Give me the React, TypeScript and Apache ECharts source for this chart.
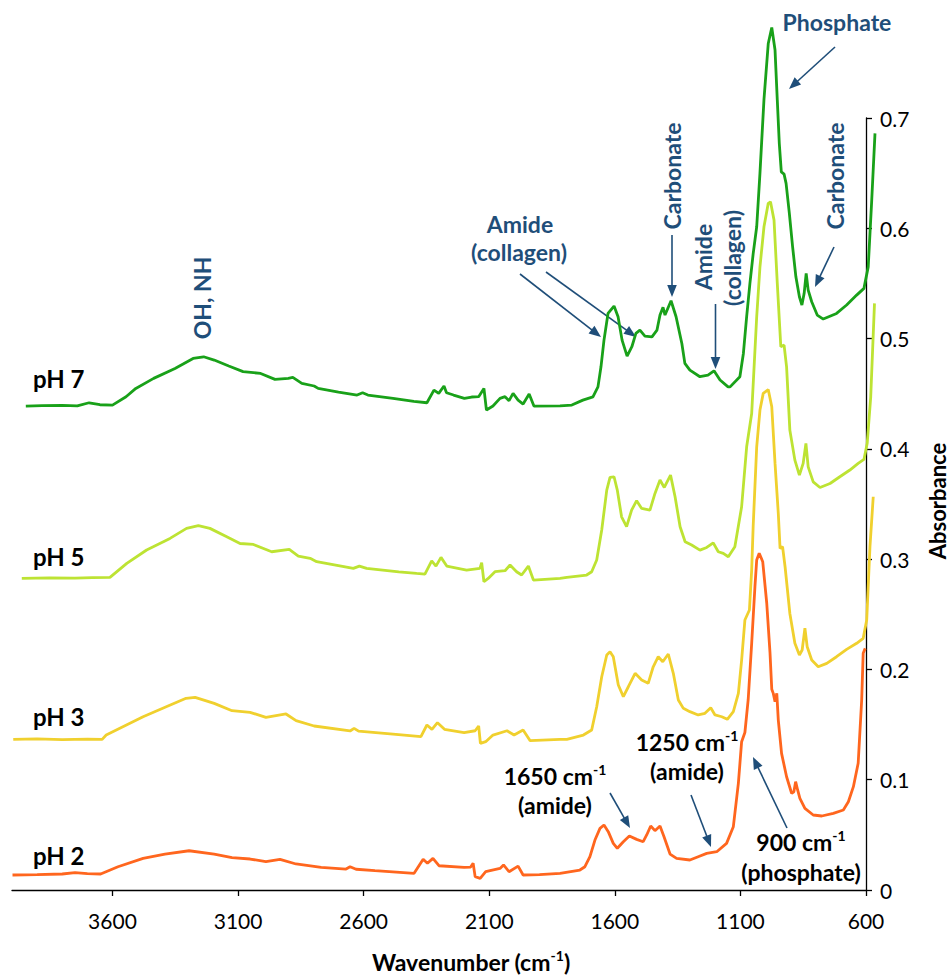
import { useEffect, useRef } from "react";
import * as echarts from "echarts";

// FTIR spectra: [wavenumber (cm-1), absorbance], stacked by pH
const ph7: [number, number][] = [
  [3945, 0.4388], [3880, 0.4392], [3800, 0.4395], [3740, 0.439], [3693, 0.4418], [3650, 0.44],
  [3600, 0.4397], [3546, 0.4472], [3507, 0.4548], [3436, 0.4639], [3351, 0.4729], [3279, 0.482],
  [3237, 0.4835], [3195, 0.4805], [3137, 0.4751], [3080, 0.47], [3010, 0.4684], [2953, 0.463],
  [2900, 0.464], [2882, 0.4648], [2846, 0.4594], [2797, 0.457], [2781, 0.4548], [2700, 0.4515],
  [2626, 0.4488], [2604, 0.4509], [2583, 0.4488], [2483, 0.4458], [2400, 0.443], [2348, 0.4418],
  [2320, 0.4533], [2301, 0.4503], [2280, 0.457], [2270, 0.4509], [2242, 0.4488], [2199, 0.4458],
  [2170, 0.447], [2142, 0.4473], [2121, 0.4548], [2111, 0.4352], [2085, 0.4388], [2057, 0.4458],
  [2037, 0.4473], [2021, 0.4437], [2005, 0.4503], [1985, 0.4442], [1965, 0.4406], [1941, 0.4497],
  [1922, 0.4388], [1818, 0.439], [1771, 0.4397], [1727, 0.4442], [1687, 0.4472], [1667, 0.4562],
  [1655, 0.4744], [1643, 0.4986], [1627, 0.5228], [1603, 0.5295], [1587, 0.5198], [1571, 0.4986],
  [1551, 0.4841], [1532, 0.4926], [1516, 0.5047], [1500, 0.5077], [1480, 0.5023], [1452, 0.5016],
  [1432, 0.5077], [1420, 0.5213], [1408, 0.5283], [1400, 0.5213], [1376, 0.5343], [1356, 0.5198],
  [1333, 0.4956], [1321, 0.4775], [1301, 0.4714], [1261, 0.4654], [1229, 0.4669], [1205, 0.4708],
  [1181, 0.4624], [1149, 0.4562], [1141, 0.4562], [1102, 0.4654], [1088, 0.4865], [1075, 0.5198],
  [1062, 0.55], [1049, 0.577], [1035, 0.6014], [1022, 0.65], [1006, 0.7169], [989, 0.7675],
  [975, 0.782], [962, 0.7616], [953, 0.7162], [945, 0.6769], [937, 0.6512], [926, 0.6491],
  [918, 0.6407], [905, 0.6135], [892, 0.5832], [879, 0.556], [865, 0.5379], [855, 0.5304],
  [846, 0.541], [838, 0.5591], [830, 0.544], [816, 0.5334], [794, 0.5213], [770, 0.5177],
  [717, 0.5228], [677, 0.5304], [637, 0.5394], [608, 0.5455], [591, 0.565], [577, 0.6256],
  [564, 0.686],
];

const ph5: [number, number][] = [
  [3961, 0.2825], [3850, 0.283], [3750, 0.2828], [3680, 0.2832], [3610, 0.2834], [3543, 0.2961],
  [3464, 0.3083], [3371, 0.3188], [3305, 0.3279], [3258, 0.3303], [3212, 0.3279], [3145, 0.3203],
  [3092, 0.3142], [3039, 0.3133], [2966, 0.3067], [2896, 0.3088], [2860, 0.3028], [2813, 0.3007],
  [2787, 0.2977], [2641, 0.2916], [2617, 0.2937], [2588, 0.2916], [2460, 0.2885], [2389, 0.2871],
  [2356, 0.2865], [2329, 0.2985], [2312, 0.2937], [2292, 0.3016], [2269, 0.2937], [2190, 0.2901],
  [2137, 0.2916], [2130, 0.2967], [2121, 0.2795], [2104, 0.2825], [2077, 0.2886], [2037, 0.2895],
  [2017, 0.2947], [1991, 0.2886], [1971, 0.2856], [1944, 0.2937], [1924, 0.281], [1818, 0.2825],
  [1791, 0.2834], [1712, 0.2856], [1692, 0.2886], [1672, 0.2992], [1652, 0.3264], [1632, 0.3626],
  [1619, 0.3741], [1603, 0.3747], [1590, 0.3626], [1573, 0.3384], [1553, 0.3294], [1533, 0.3445],
  [1513, 0.353], [1493, 0.346], [1460, 0.3445], [1440, 0.3596], [1420, 0.3717], [1403, 0.365],
  [1378, 0.3762], [1360, 0.3566], [1340, 0.3294], [1320, 0.3158], [1294, 0.3128], [1261, 0.3082],
  [1234, 0.3106], [1208, 0.3148], [1188, 0.3067], [1168, 0.3052], [1148, 0.3022], [1122, 0.3113],
  [1095, 0.3475], [1075, 0.4019], [1055, 0.432], [1035, 0.5198], [1022, 0.5651], [1006, 0.6014],
  [989, 0.6226], [980, 0.624], [966, 0.6074], [953, 0.55], [939, 0.4926], [926, 0.4941],
  [916, 0.4744], [903, 0.417], [883, 0.3898], [865, 0.3762], [850, 0.3868], [839, 0.405],
  [830, 0.3837], [810, 0.3701], [783, 0.365], [743, 0.3686], [704, 0.3747], [664, 0.3808],
  [631, 0.3868], [608, 0.3904], [595, 0.405], [581, 0.4472], [566, 0.5319],
];

const ph3: [number, number][] = [
  [3995, 0.1366], [3900, 0.137], [3800, 0.1364], [3700, 0.1368], [3641, 0.1366], [3625, 0.1405],
  [3478, 0.1571], [3379, 0.1668], [3307, 0.1738], [3271, 0.1747], [3195, 0.1692], [3124, 0.1626],
  [3052, 0.1611], [2989, 0.1566], [2909, 0.1596], [2869, 0.1535], [2797, 0.1487], [2654, 0.1442],
  [2638, 0.1466], [2620, 0.144], [2483, 0.1414], [2372, 0.139], [2348, 0.1496], [2328, 0.1457],
  [2306, 0.1517], [2278, 0.1457], [2200, 0.1426], [2156, 0.1444], [2142, 0.1487], [2135, 0.133],
  [2114, 0.1345], [2085, 0.1405], [2029, 0.1444], [2001, 0.1405], [1965, 0.1451], [1937, 0.1354],
  [1818, 0.1366], [1791, 0.1366], [1725, 0.1405], [1692, 0.1451], [1672, 0.1662], [1652, 0.1934],
  [1632, 0.2131], [1619, 0.2161], [1606, 0.2115], [1586, 0.1859], [1566, 0.1753], [1546, 0.1843],
  [1519, 0.1965], [1493, 0.1904], [1467, 0.1874], [1447, 0.2024], [1427, 0.2115], [1409, 0.207],
  [1387, 0.214], [1367, 0.1965], [1347, 0.1723], [1327, 0.1647], [1301, 0.1617], [1268, 0.1587],
  [1241, 0.1602], [1218, 0.1653], [1201, 0.1587], [1174, 0.1571], [1152, 0.1548], [1128, 0.1617],
  [1108, 0.1783], [1095, 0.2085], [1082, 0.2448], [1064, 0.2539], [1055, 0.29], [1049, 0.33],
  [1035, 0.4019], [1022, 0.4352], [1009, 0.4503], [989, 0.4538], [975, 0.4382], [962, 0.3868],
  [949, 0.3414], [942, 0.3098], [932, 0.3113], [922, 0.2931], [903, 0.2508], [883, 0.2237],
  [865, 0.2131], [854, 0.2176], [843, 0.2373], [834, 0.2206], [816, 0.2085], [790, 0.2024],
  [756, 0.2055], [717, 0.2115], [677, 0.2182], [637, 0.2237], [611, 0.2282], [597, 0.2448],
  [584, 0.3113], [571, 0.3566],
];

const ph2: [number, number][] = [
  [3998, 0.0136], [3900, 0.014], [3800, 0.0145], [3749, 0.0157], [3700, 0.0148], [3647, 0.0145],
  [3578, 0.0211], [3478, 0.0287], [3391, 0.0326], [3295, 0.0356], [3195, 0.0326], [3124, 0.0293],
  [3052, 0.0281], [2989, 0.0257], [2933, 0.0278], [2869, 0.0236], [2769, 0.0205], [2670, 0.019],
  [2654, 0.0211], [2630, 0.0188], [2555, 0.0175], [2399, 0.0151], [2363, 0.0278], [2346, 0.0242],
  [2324, 0.0287], [2300, 0.022], [2200, 0.0205], [2174, 0.0208], [2164, 0.0242], [2156, 0.0121],
  [2136, 0.0106], [2114, 0.0166], [2057, 0.0196], [2043, 0.0227], [2021, 0.0166], [1985, 0.0217],
  [1965, 0.0136], [1900, 0.014], [1818, 0.015], [1739, 0.0181], [1719, 0.0211], [1699, 0.0302],
  [1679, 0.0453], [1659, 0.0559], [1643, 0.0589], [1626, 0.0529], [1606, 0.0423], [1590, 0.0378],
  [1566, 0.0438], [1542, 0.049], [1513, 0.0459], [1487, 0.0438], [1473, 0.0499], [1457, 0.058],
  [1440, 0.0538], [1420, 0.058], [1404, 0.0483], [1380, 0.0326], [1354, 0.0287], [1301, 0.0272],
  [1268, 0.0302], [1234, 0.0332], [1194, 0.0347], [1155, 0.0423], [1128, 0.0574], [1108, 0.0967],
  [1095, 0.1345], [1082, 0.1428], [1069, 0.1723], [1055, 0.2237], [1042, 0.275], [1035, 0.2992],
  [1025, 0.3053], [1011, 0.2977], [995, 0.26], [982, 0.215], [975, 0.182], [969, 0.1783],
  [962, 0.1707], [955, 0.1783], [949, 0.1541], [936, 0.1239], [916, 0.1027], [896, 0.0877],
  [887, 0.0891], [880, 0.0982], [872, 0.0907], [863, 0.0831], [843, 0.074], [810, 0.068],
  [776, 0.0671], [730, 0.0695], [690, 0.0725], [670, 0.08], [650, 0.0937], [631, 0.1149],
  [617, 0.1723], [611, 0.2146], [603, 0.2191],
];

const seriesNames = ["pH 7", "pH 5", "pH 3", "pH 2"];
const seriesData = [ph7, ph5, ph3, ph2];
const seriesColors = ["#19A119", "#BDE333", "#F0D02E", "#FF661E"];

const wavenumberTicks = [600, 1100, 1600, 2100, 2600, 3100, 3600];

const FONT = 'Lato, "Noto Sans", sans-serif';
const BLUE = "#1F4E79";

type Note = { text: string; x: number; y: number; vertical?: boolean; align?: string };

// blue band assignments
const bandNotes: Note[] = [
  { text: "OH, NH", x: 202, y: 298, vertical: true },
  { text: "Amide", x: 520, y: 224 },
  { text: "(collagen)", x: 519, y: 252 },
  { text: "Carbonate", x: 672, y: 176, vertical: true },
  { text: "Amide", x: 703, y: 257, vertical: true },
  { text: "(collagen)", x: 732, y: 258, vertical: true },
  { text: "Phosphate", x: 837, y: 22 },
  { text: "Carbonate", x: 835, y: 176, vertical: true },
];

// curve labels on the left
const curveNotes: Note[] = [
  { text: "pH 7", x: 33, y: 378, align: "left" },
  { text: "pH 5", x: 33, y: 556, align: "left" },
  { text: "pH 3", x: 33, y: 716, align: "left" },
  { text: "pH 2", x: 33, y: 855, align: "left" },
];

// black peak callouts
const peakNotes = [
  { main: "1650 cm", sup: "-1", sub: "(amide)", x: 555, y: 776, y2: 805 },
  { main: "1250 cm", sup: "-1", sub: "(amide)", x: 687, y: 742, y2: 771 },
  { main: "900 cm", sup: "-1", sub: "(phosphate)", x: 801, y: 842, y2: 872 },
];

const arrows: [number, number, number, number][] = [
  [520, 274, 601, 337],
  [546, 272, 636, 337],
  [672, 235, 672, 297],
  [715.5, 304, 715.5, 369],
  [835, 47, 789, 89],
  [834, 247, 815, 287],
  [610, 793, 630, 828],
  [691, 795, 711, 847],
  [787, 828, 753, 757],
];

function arrowElements([x1, y1, x2, y2]: [number, number, number, number]) {
  const dx = x2 - x1;
  const dy = y2 - y1;
  const len = Math.hypot(dx, dy);
  const ux = dx / len;
  const uy = dy / len;
  const headLen = 12;
  const headHalf = 4.8;
  const bx = x2 - ux * headLen;
  const by = y2 - uy * headLen;
  const nx = -uy;
  const ny = ux;
  return [
    {
      type: "line",
      shape: { x1, y1, x2: bx + ux * 2, y2: by + uy * 2 },
      style: { stroke: BLUE, lineWidth: 1.6 },
      silent: true,
    },
    {
      type: "polygon",
      shape: {
        points: [
          [x2, y2],
          [bx + nx * headHalf, by + ny * headHalf],
          [bx - nx * headHalf, by - ny * headHalf],
        ],
      },
      style: { fill: BLUE },
      silent: true,
    },
  ];
}

function textElement(n: Note, color: string, size: number) {
  return {
    type: "text",
    x: n.x,
    y: n.y,
    rotation: n.vertical ? Math.PI / 2 : 0,
    silent: true,
    style: {
      text: n.text,
      fill: color,
      font: `bold ${size}px ${FONT}`,
      textAlign: n.align || "center",
      textVerticalAlign: "middle",
    },
  };
}

// text with a raised "-1" exponent, optional trailing text after it
function supText(main: string, sup: string, tail: string, x: number, y: number, size: number) {
  const supSize = Math.round(size * 0.6);
  return {
    type: "text",
    x,
    y,
    silent: true,
    style: {
      text: `{m|${main}}{s|${sup}}` + (tail ? `{m|${tail}}` : ""),
      textAlign: "center",
      textVerticalAlign: "middle",
      rich: {
        m: { fill: "#000", fontSize: size, fontWeight: "bold", fontFamily: FONT, lineHeight: size + 4 },
        s: {
          fill: "#000",
          fontSize: supSize,
          fontWeight: "bold",
          fontFamily: FONT,
          verticalAlign: "top",
          lineHeight: size + 4,
          height: supSize,
        },
      },
    },
  };
}

export default function App() {
  const ref = useRef<HTMLDivElement>(null);

  useEffect(() => {
    document.body.style.margin = "0";
    if (!ref.current) return;
    const chart = echarts.init(ref.current, undefined, { renderer: "svg" });

    const graphic: any[] = [];
    bandNotes.forEach((n) => graphic.push(textElement(n, BLUE, 23)));
    curveNotes.forEach((n) => graphic.push(textElement(n, "#000", 24)));
    peakNotes.forEach((p) => {
      graphic.push(supText(p.main, p.sup, "", p.x, p.y, 23));
      graphic.push(textElement({ text: p.sub, x: p.x, y: p.y2 }, "#000", 23));
    });
    arrows.forEach((a) => graphic.push(...arrowElements(a)));
    graphic.push(supText("Wavenumber (cm", "-1", ")", 471, 962, 23));
    graphic.push({
      type: "text",
      x: 937,
      y: 501,
      rotation: Math.PI / 2,
      silent: true,
      style: {
        text: "Absorbance",
        fill: "#000",
        font: `bold 22px ${FONT}`,
        textAlign: "center",
        textVerticalAlign: "middle",
      },
    });

    const axisLineStyle = { color: "#000", width: 1.3 };

    chart.setOption({
      animation: false,
      backgroundColor: "#fff",
      // grid 0 carries the spectra (its x range runs a little past 600 so the
      // spectrum tails are kept); grid 1 shares the same scale and shows the axes
      grid: [
        { left: 12, right: 76, top: 118, bottom: 86, outerBoundsMode: "none" },
        { left: 12, right: 86, top: 118, bottom: 86, outerBoundsMode: "none" },
      ],
      xAxis: [
        { gridIndex: 0, type: "value", min: 560, max: 4000, inverse: true, show: false },
        {
          gridIndex: 1,
          type: "value",
          min: 600,
          max: 4000,
          inverse: true,
          axisLine: { show: true, onZero: false, lineStyle: axisLineStyle },
          axisTick: {
            show: true,
            length: 6,
            customValues: wavenumberTicks,
            lineStyle: axisLineStyle,
          },
          axisLabel: {
            customValues: wavenumberTicks,
            fontSize: 21,
            fontFamily: FONT,
            color: "#000",
            margin: 20,
            formatter: (v: number) => String(v),
          },
          splitLine: { show: false },
        },
      ],
      yAxis: [
        { gridIndex: 0, type: "value", min: 0, max: 0.7, show: false },
        {
          gridIndex: 1,
          type: "value",
          position: "right",
          min: 0,
          max: 0.7,
          interval: 0.1,
          axisLine: { show: true, onZero: false, lineStyle: axisLineStyle },
          axisTick: { show: true, length: 6, lineStyle: axisLineStyle },
          axisLabel: {
            fontSize: 21,
            fontFamily: FONT,
            color: "#000",
            margin: 14,
            formatter: (v: number) => String(Math.round(v * 10) / 10),
          },
          splitLine: { show: false },
        },
      ],
      series: seriesData.map((d, i) => ({
        name: seriesNames[i],
        type: "line",
        xAxisIndex: 0,
        yAxisIndex: 0,
        data: d,
        showSymbol: false,
        clip: false,
        lineStyle: { color: seriesColors[i], width: 2.8 },
        itemStyle: { color: seriesColors[i] },
        z: 2 + i,
      })),
      graphic,
    });

    return () => chart.dispose();
  }, []);

  return <div ref={ref} style={{ width: 952, height: 976 }} />;
}
